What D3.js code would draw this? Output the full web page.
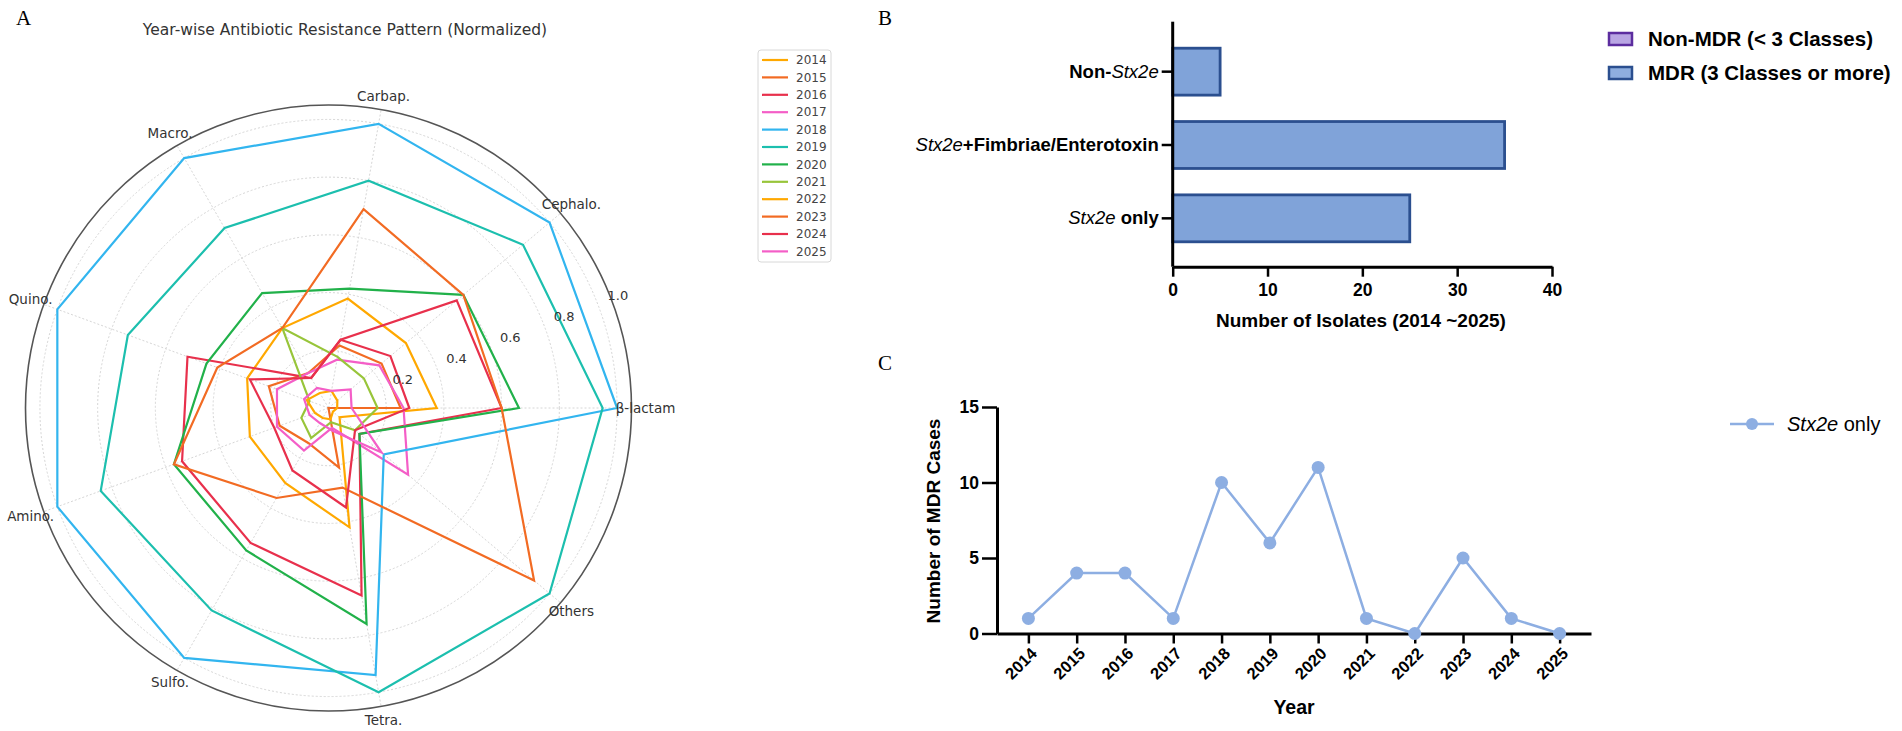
<!DOCTYPE html>
<html>
<head>
<meta charset="utf-8">
<title>Antibiotic resistance figure</title>
<script src="https://cdnjs.cloudflare.com/ajax/libs/d3/7.8.5/d3.min.js"></script>
<style>
  body { margin: 0; background: #fff; }
  svg { display: block; }
</style>
</head>
<body>
<svg id="fig" width="1902" height="731"></svg>
<script>
// ---- panel A data (normalized resistance per class) ----
var classes = ["β-lactam", "Cephalo.", "Carbap.", "Macro.", "Quino.", "Amino.", "Sulfo.", "Tetra.", "Others"];
var years = ["2014", "2015", "2016", "2017", "2018", "2019", "2020", "2021", "2022", "2023", "2024", "2025"];
var r2014 = [0.375, 0.35, 0.385, 0.32, 0.30, 0.29, 0.30, 0.42, 0.05];
var r2015 = [0.25, 0.24, 0.22, 0.14, 0.22, 0.18, 0.14, 0.21, 0.0];
var r2016 = [0.60, 0.58, 0.24, 0.12, 0.52, 0.54, 0.54, 0.66, 0.14];
var r2017 = [0.26, 0.23, 0.17, 0.14, 0.19, 0.19, 0.17, 0.07, 0.36];
var r2018 = [1.0, 1.0, 1.0, 1.0, 1.0, 1.0, 1.0, 0.94, 0.25];
var r2019 = [0.95, 0.88, 0.80, 0.72, 0.74, 0.84, 0.81, 1.0, 1.0];
var r2020 = [0.66, 0.61, 0.42, 0.46, 0.45, 0.57, 0.57, 0.76, 0.14];
var r2021 = [0.17, 0.16, 0.18, 0.32, 0.07, 0.10, 0.12, 0.05, 0.12];
var r2022 = [0.03, 0.04, 0.06, 0.06, 0.08, 0.05, 0.04, 0.04, 0.02];
var r2023 = [0.60, 0.61, 0.70, 0.32, 0.41, 0.57, 0.36, 0.28, 0.93];
var r2024 = [0.28, 0.28, 0.24, 0.12, 0.29, 0.20, 0.25, 0.35, 0.12];
var r2025 = [0.08, 0.10, 0.06, 0.08, 0.09, 0.07, 0.06, 0.08, 0.24];
var rTicks = [0.2, 0.4, 0.6, 0.8, 1.0];
var yearColors = ["#ffa800", "#f26b23", "#e8304c", "#f45ec7", "#32b5ef", "#1cbfae", "#21b14a", "#98c53a",
                  "#ffa800", "#f26b23", "#e8304c", "#f45ec7"];

// ---- panel B data ----
var bGroups = ["Non-Stx2e", "Stx2e+Fimbriae/Enterotoxin", "Stx2e only"];
var bCounts = [5, 35, 25];
var bTicks = [0, 10, 20, 30, 40];
var bLegend = ["Non-MDR (< 3 Classes)", "MDR (3 Classes or more)"];

// ---- panel C data ----
var cYears = ["2014", "2015", "2016", "2017", "2018", "2019", "2020", "2021", "2022", "2023", "2024", "2025"];
var cCases = [1, 4, 4, 1, 10, 6, 11, 1, 0, 5, 1, 0];
var cTicks = [0, 5, 10, 15];

var radar = [r2014, r2015, r2016, r2017, r2018, r2019, r2020, r2021, r2022, r2023, r2024, r2025];

var svg = d3.select("#fig");
var dv = "DejaVu Sans, sans-serif";
var ar = "Liberation Sans, Arial, sans-serif";
var serif = "Liberation Serif, Times New Roman, serif";

// panel letters
svg.append("text").attr("x", 16).attr("y", 25).text("A")
  .style("font-family", serif).style("font-size", "21px");
svg.append("text").attr("x", 878).attr("y", 25).text("B")
  .style("font-family", serif).style("font-size", "21px");
svg.append("text").attr("x", 878).attr("y", 370).text("C")
  .style("font-family", serif).style("font-size", "21px");

// =============== A: radar ===============
var cx = 328.5, cy = 408;
var rScale = d3.scaleLinear().domain([0, 1.05]).range([0, 303]);
var aScale = d3.scalePoint().domain(classes)
  .range([Math.PI / 2, Math.PI / 2 - 2 * Math.PI * 8 / 9]);

svg.append("text").attr("x", 345).attr("y", 35).attr("text-anchor", "middle")
  .text("Year-wise Antibiotic Resistance Pattern (Normalized)")
  .style("font-family", dv).style("font-size", "15.5px").style("fill", "#333");

var gA = svg.append("g").attr("transform", "translate(" + cx + "," + cy + ")");

gA.selectAll(".grid").data(rTicks).enter().append("circle")
  .attr("r", d => rScale(d))
  .attr("fill", "none").attr("stroke", "#d6d6d6").attr("stroke-width", 1)
  .attr("stroke-dasharray", "2,2");

gA.selectAll(".spoke").data(classes).enter().append("line")
  .attr("x1", 0).attr("y1", 0)
  .attr("x2", d => rScale(1.05) * Math.sin(aScale(d)))
  .attr("y2", d => -rScale(1.05) * Math.cos(aScale(d)))
  .attr("stroke", "#d6d6d6").attr("stroke-width", 1).attr("stroke-dasharray", "2,2");

var radarLine = d3.lineRadial()
  .angle((d, i) => aScale(classes[i]))
  .radius(d => rScale(d))
  .curve(d3.curveLinearClosed);

gA.selectAll(".series").data(radar).enter().append("path")
  .attr("d", d => radarLine(d))
  .attr("fill", "none")
  .attr("stroke", (d, i) => yearColors[i])
  .attr("stroke-width", 2.2)
  .attr("stroke-linejoin", "miter");

gA.append("circle").attr("r", rScale(1.05))
  .attr("fill", "none").attr("stroke", "#555").attr("stroke-width", 1.6);

gA.selectAll(".clabel").data(classes).enter().append("text")
  .attr("x", d => (rScale(1.05) + 14) * Math.sin(aScale(d)))
  .attr("y", d => -(rScale(1.05) + 14) * Math.cos(aScale(d)))
  .attr("text-anchor", "middle").attr("dy", "0.35em")
  .text(d => d)
  .style("font-family", dv).style("font-size", "13.5px").style("fill", "#333");

var labAng = (90 - 21.3) * Math.PI / 180;
gA.selectAll(".rlabel").data(rTicks).enter().append("text")
  .attr("x", d => (rScale(d) + 22) * Math.sin(labAng))
  .attr("y", d => -(rScale(d) + 22) * Math.cos(labAng))
  .attr("text-anchor", "middle").attr("dy", "0.35em")
  .text(d => d3.format(".1f")(d))
  .style("font-family", dv).style("font-size", "13px").style("fill", "#333");

// legend A
var legA = svg.append("g").attr("transform", "translate(758,50)");
legA.append("rect").attr("width", 73).attr("height", 212).attr("rx", 3)
  .attr("fill", "#fff").attr("stroke", "#d8d8d8");
var legRows = legA.selectAll(".row").data(years).enter().append("g")
  .attr("transform", (d, i) => "translate(0," + (10 + i * 17.4) + ")");
legRows.append("line").attr("x1", 4).attr("x2", 30)
  .attr("stroke", (d, i) => yearColors[i]).attr("stroke-width", 2.2);
legRows.append("text").attr("x", 38).attr("dy", "0.35em").text(d => d)
  .style("font-family", dv).style("font-size", "12px").style("fill", "#444");

// =============== B: horizontal bars ===============
var xB = d3.scaleLinear().domain([0, 40]).range([1172.7, 1552]);
var yB = d3.scaleBand().domain(bGroups).range([35, 255]).paddingInner(0.36).paddingOuter(0.18);

svg.selectAll(".bbar").data(bCounts).enter().append("rect")
  .attr("x", xB(0))
  .attr("y", (d, i) => yB(bGroups[i]))
  .attr("width", d => xB(d) - xB(0))
  .attr("height", yB.bandwidth())
  .attr("fill", "#80a3d9").attr("stroke", "#2b4f8f").attr("stroke-width", 2.8);

var bLabelParts = [
  [["Non-", "b"], ["Stx2e", "i"]],
  [["Stx2e", "i"], ["+Fimbriae/Enterotoxin", "b"]],
  [["Stx2e", "i"], [" only", "b"]]
];

var gBy = svg.append("g").attr("transform", "translate(" + xB(0) + ",0)")
  .call(d3.axisLeft(yB).tickSize(11).tickSizeOuter(0).tickPadding(3));
gBy.select(".domain").remove();
gBy.append("line").attr("y1", 21.7).attr("y2", 266.7).attr("stroke", "#000").attr("stroke-width", 3);
gBy.selectAll(".tick line").attr("stroke-width", 2.5);
gBy.selectAll(".tick text").each(function (d, i) {
  var t = d3.select(this).text("");
  bLabelParts[i].forEach(function (p) {
    t.append("tspan").text(p[0])
      .style("font-style", p[1] == "i" ? "italic" : "normal")
      .style("font-weight", p[1] == "i" ? "normal" : "bold");
  });
}).style("font-family", ar).style("font-size", "18.5px").style("fill", "#000");

var gBx = svg.append("g").attr("transform", "translate(0,266.7)")
  .call(d3.axisBottom(xB).tickValues(bTicks).tickSize(10).tickSizeOuter(0).tickPadding(7));
gBx.select(".domain").attr("stroke-width", 3);
gBx.selectAll(".tick line").attr("stroke-width", 2.5);
gBx.selectAll(".tick text").style("font-family", ar).style("font-size", "17.5px")
  .style("font-weight", "bold").style("fill", "#000");

svg.append("text").attr("x", 1361).attr("y", 327).attr("text-anchor", "middle")
  .text("Number of Isolates (2014 ~2025)")
  .style("font-family", ar).style("font-size", "19px").style("font-weight", "bold");

var legB = svg.selectAll(".legb").data(bLegend).enter().append("g")
  .attr("transform", (d, i) => "translate(1609," + (39 + i * 34) + ")");
legB.append("rect").attr("x", 0).attr("y", -6).attr("width", 23).attr("height", 12)
  .attr("fill", (d, i) => i == 0 ? "#b9a6e3" : "#8eaedf")
  .attr("stroke", (d, i) => i == 0 ? "#5c2d9f" : "#2b4f8f").attr("stroke-width", 2.5);
legB.append("text").attr("x", 39).attr("dy", "0.36em").text(d => d)
  .style("font-family", ar).style("font-size", "20.5px").style("font-weight", "bold");

// =============== C: line chart ===============
var xC = d3.scalePoint().domain(cYears).range([997, 1591]).padding(0.65);
var yC = d3.scaleLinear().domain([0, 15]).range([633.5, 407]);

var gCy = svg.append("g").attr("transform", "translate(997,0)")
  .call(d3.axisLeft(yC).tickValues(cTicks).tickSize(15).tickSizeOuter(0).tickPadding(3));
gCy.select(".domain").attr("stroke-width", 3);
gCy.selectAll(".tick line").attr("stroke-width", 2.5);
gCy.selectAll(".tick text").style("font-family", ar).style("font-size", "17.5px")
  .style("font-weight", "bold").style("fill", "#000");

var gCx = svg.append("g").attr("transform", "translate(0,633.5)")
  .call(d3.axisBottom(xC).tickSize(10).tickSizeOuter(0));
gCx.select(".domain").attr("stroke-width", 3);
gCx.selectAll(".tick line").attr("stroke-width", 2.5);
gCx.selectAll(".tick text")
  .attr("x", 0).attr("y", 0).attr("dy", "0.35em")
  .attr("transform", "translate(5,17) rotate(-45)")
  .attr("text-anchor", "end")
  .style("font-family", ar).style("font-size", "16.5px")
  .style("font-weight", "bold").style("fill", "#000");

svg.append("text").attr("x", 1294).attr("y", 714).attr("text-anchor", "middle").text("Year")
  .style("font-family", ar).style("font-size", "19.5px").style("font-weight", "bold");

svg.append("text").attr("transform", "translate(940,521) rotate(-90)")
  .attr("text-anchor", "middle").text("Number of MDR Cases")
  .style("font-family", ar).style("font-size", "19px").style("font-weight", "bold");

var cLine = d3.line().x((d, i) => xC(cYears[i])).y(d => yC(d));
svg.append("path").attr("d", cLine(cCases))
  .attr("fill", "none").attr("stroke", "#8daee2").attr("stroke-width", 2.5);
svg.selectAll(".cdot").data(cCases).enter().append("circle")
  .attr("cx", (d, i) => xC(cYears[i])).attr("cy", d => yC(d)).attr("r", 6.5)
  .attr("fill", "#8daee2");

var legC = svg.append("g").attr("transform", "translate(1730,424)");
legC.append("line").attr("x1", 0).attr("x2", 44).attr("stroke", "#8daee2").attr("stroke-width", 2.5);
legC.append("circle").attr("cx", 22).attr("r", 6).attr("fill", "#8daee2");
var legCt = legC.append("text").attr("x", 57).attr("dy", "0.36em")
  .style("font-family", ar).style("font-size", "20px");
legCt.append("tspan").text("Stx2e").style("font-style", "italic");
legCt.append("tspan").text(" only");
</script>
</body>
</html>
